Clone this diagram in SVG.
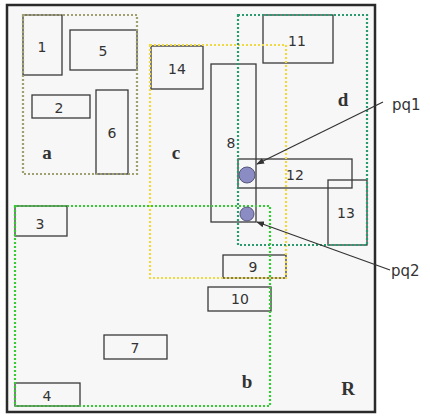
<svg xmlns="http://www.w3.org/2000/svg" width="430" height="416" viewBox="0 0 430 416">
<defs>
<style>
.box{fill:none;stroke:#3a3a3a;stroke-width:1.3}
.num{font-family:"DejaVu Sans",sans-serif;font-size:14px;fill:#333;text-anchor:middle}
.lbl{font-family:"Liberation Serif",serif;font-size:19px;font-weight:bold;fill:#333;text-anchor:middle}
.reg{fill:none;stroke-width:2.2;stroke-dasharray:2 2}
.pt{fill:#8c8cc4;stroke:#55557a;stroke-width:1}
.ann{font-family:"DejaVu Sans",sans-serif;font-size:15px;fill:#333}
</style>
<marker id="ah" markerWidth="8" markerHeight="6" refX="7" refY="3" orient="auto" markerUnits="userSpaceOnUse">
<path d="M0,0 L8,3 L0,6 Z" fill="#333"/>
</marker>
</defs>
<rect x="0" y="0" width="430" height="416" fill="#fff"/>
<g id="R">
<rect x="7" y="5" width="368" height="407" fill="#f7f7f7" stroke="#2a2a2a" stroke-width="2.5"/>
<text class="lbl" x="348" y="395">R</text>
</g>
<g id="node1"><rect class="box" x="23" y="15" width="39" height="60"/><text class="num" x="42" y="52">1</text></g>
<g id="node5"><rect class="box" x="70" y="30" width="67" height="40"/><text class="num" x="103" y="56">5</text></g>
<g id="node2"><rect class="box" x="32" y="95" width="58" height="23"/><text class="num" x="59" y="113">2</text></g>
<g id="node6"><rect class="box" x="96" y="90" width="32" height="84"/><text class="num" x="112" y="138">6</text></g>
<g id="node14"><rect class="box" x="151" y="46" width="52" height="43"/><text class="num" x="177" y="74">14</text></g>
<g id="node8"><rect class="box" x="211" y="64" width="45" height="158"/><text class="num" x="231" y="148">8</text></g>
<g id="node11"><rect class="box" x="263" y="15" width="70" height="48"/><text class="num" x="297" y="46">11</text></g>
<g id="node12"><rect class="box" x="238" y="159" width="114" height="29"/><text class="num" x="295" y="180">12</text></g>
<g id="node13"><rect class="box" x="328" y="180" width="39" height="65"/><text class="num" x="346" y="218">13</text></g>
<g id="node3"><rect class="box" x="15" y="206" width="52" height="30"/><text class="num" x="40" y="229">3</text></g>
<g id="node4"><rect class="box" x="15" y="383" width="65" height="23"/><text class="num" x="47" y="401">4</text></g>
<g id="node7"><rect class="box" x="104" y="335" width="63" height="24"/><text class="num" x="135" y="353">7</text></g>
<g id="node9"><rect class="box" x="223" y="255" width="63" height="23"/><text class="num" x="253" y="272">9</text></g>
<g id="node10"><rect class="box" x="208" y="287" width="63" height="24"/><text class="num" x="240" y="304">10</text></g>
<g id="region-a"><rect class="reg" x="23" y="15" width="114" height="159" stroke="#a0a070"/><text class="lbl" x="47" y="159">a</text></g>
<g id="region-c"><rect class="reg" x="150" y="45" width="136" height="233" stroke="#f0d840"/><text class="lbl" x="176" y="159">c</text></g>
<g id="region-d"><rect class="reg" x="238" y="15" width="129" height="230" stroke="#2a9a70"/><text class="lbl" x="343" y="106">d</text></g>
<g id="region-b"><rect class="reg" x="15" y="206" width="255" height="200" stroke="#33cc33"/><text class="lbl" x="247" y="388">b</text></g>
<g id="pq1"><circle class="pt" cx="247" cy="175" r="8"/><text class="ann" x="392" y="110">pq1</text></g>
<g id="pq2"><circle class="pt" cx="247" cy="214" r="7"/><text class="ann" x="391" y="276">pq2</text></g>
<g id="connectors" stroke="#333" stroke-width="1.2" fill="none">
<line x1="383" y1="102" x2="257" y2="164" marker-end="url(#ah)"/>
<line x1="390" y1="270" x2="257" y2="222" marker-end="url(#ah)"/>
</g>
</svg>
